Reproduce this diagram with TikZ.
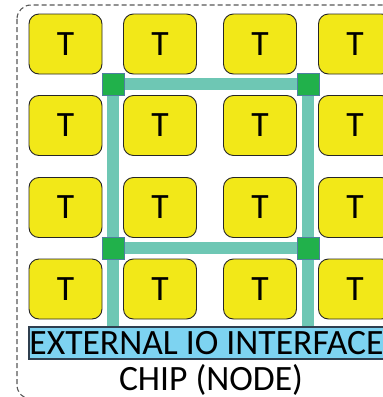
\documentclass[tikz,border=0pt]{standalone}
\usepackage{fontspec}
\setmainfont{Carlito}
\definecolor{tileyellow}{HTML}{F2E818}
\definecolor{routergreen}{HTML}{21B14B}
\definecolor{routeredge}{HTML}{4F7FA0}
\definecolor{linkteal}{HTML}{6EC7B4}
\definecolor{iobluefill}{HTML}{7DD3F1}
\definecolor{ioedge}{HTML}{2F3F4F}
\begin{document}
\begin{tikzpicture}[x=1pt,y=-1pt,
  bigtext/.style={font=\fontsize{35.6}{40}\selectfont},
  tile/.style={draw=black!85, line width=0.9pt, fill=tileyellow, rounded corners=10pt,
    minimum width=73pt, minimum height=60pt, inner sep=0pt, bigtext},
  router/.style={draw=routeredge, line width=0.9pt, fill=routergreen,
    minimum size=22pt, inner sep=0pt},
  link/.style={draw=linkteal, line width=12pt},
  iobar/.style={draw=ioedge, line width=1.2pt, fill=iobluefill,
    minimum width=355pt, minimum height=32pt,
    inner xsep=0pt, inner ysep=0pt, bigtext},
  frame/.style={draw=black!65, line width=1.1pt, dash pattern=on 5pt off 3pt, rounded corners=14pt}
]
\useasboundingbox (0,0) rectangle (383,397);
\clip (0,0) rectangle (383,397);
\fill[white] (0,0) rectangle (383,397);
% chip outline
\draw[frame] (17,5) rectangle (430,399);
% tiles
\foreach \c/\x in {1/65.5,2/160,3/260,4/355}{
  \foreach \r/\y in {1/44,2/125.5,3/207.5,4/289}{
    \node[tile] (t\r\c) at (\x,\y) {T};
  }
}
% IO bar
\node[iobar] (io) at (206.5,343) {EXTERNAL IO INTERFACE};
% routers
\node[router] (r1) at (113,84) {};
\node[router] (r2) at (308,84) {};
\node[router] (r3) at (113,248) {};
\node[router] (r4) at (308,248) {};
% links
\draw[link] (r1) -- (r2);
\draw[link] (r3) -- (r4);
\draw[link] (r1) -- (r3);
\draw[link] (r2) -- (r4);
\draw[link] (r3.south) -- (r3.south |- io.north);
\draw[link] (r4.south) -- (r4.south |- io.north);
% routers on top of links
\node[router] at (r1) {};
\node[router] at (r2) {};
\node[router] at (r3) {};
\node[router] at (r4) {};
% chip label
\node[anchor=base, bigtext, inner sep=0pt] (chip) at (211,390) {CHIP (NODE)};
\end{tikzpicture}
\end{document}
